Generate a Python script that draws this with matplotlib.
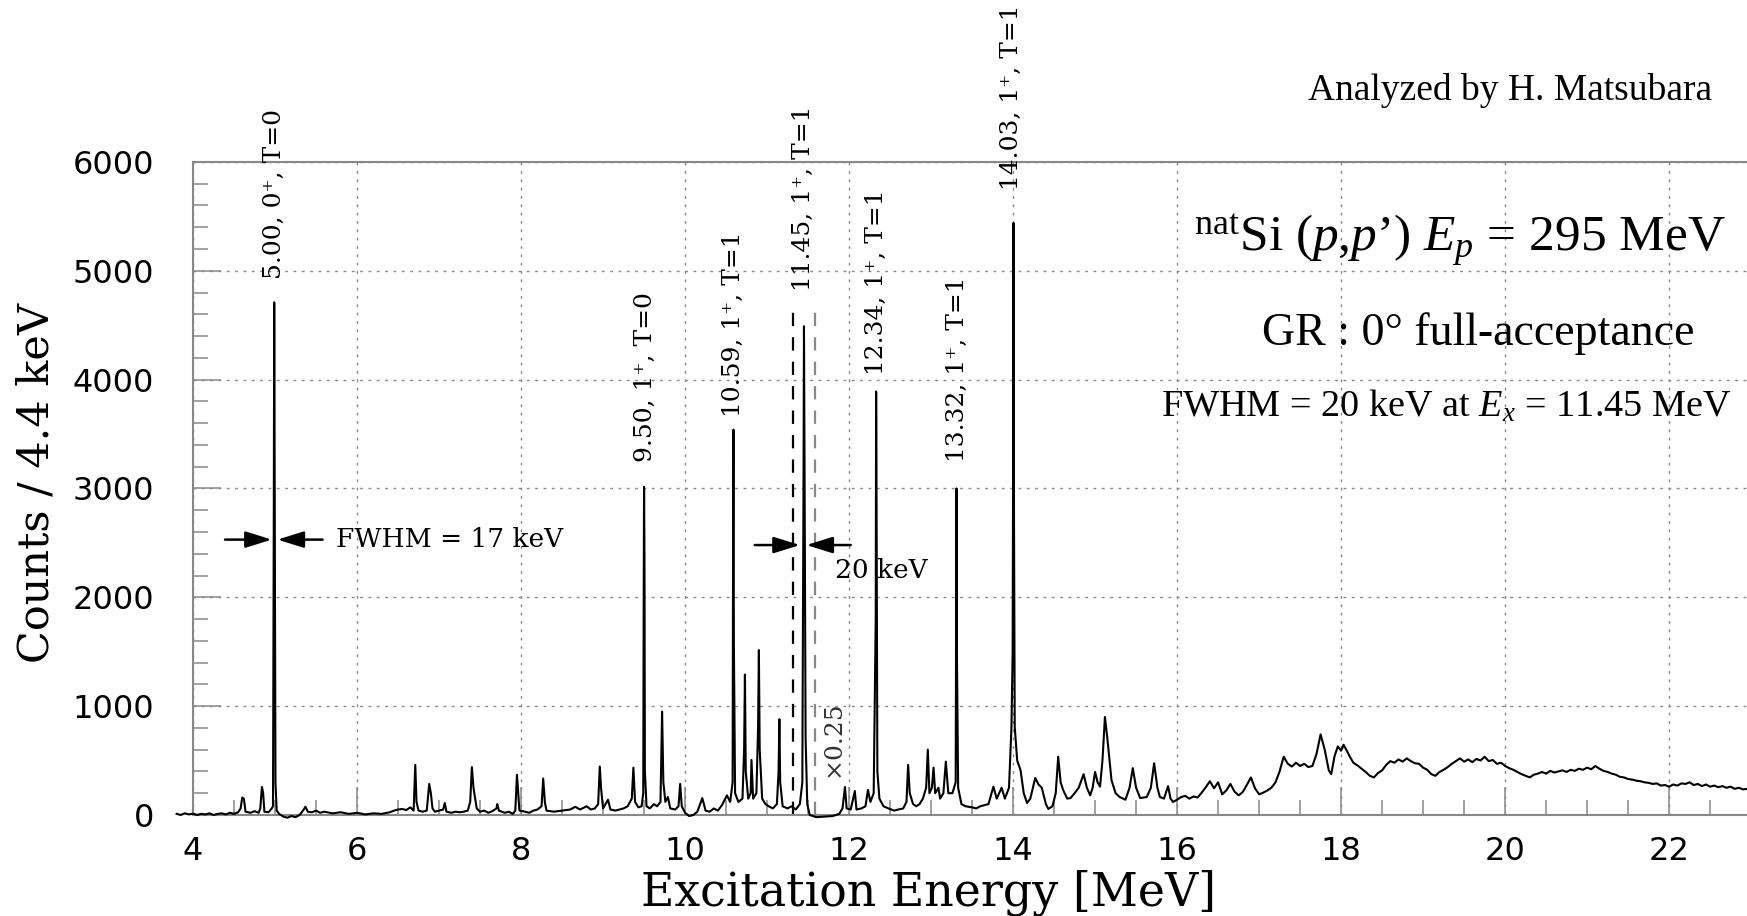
import matplotlib
matplotlib.use('Agg')
import matplotlib.pyplot as plt
from matplotlib.ticker import MultipleLocator

# spectrum, (energy MeV, counts / 4.4 keV)
spec_4_to_9 = [
    (3.80, 10), (3.85, 0), (3.90, 15), (3.95, 5), (4.00, 12), (4.05, 0), (4.10, 10),
    (4.15, 5), (4.20, 15), (4.25, 0), (4.30, 10), (4.35, 15), (4.40, 5), (4.45, 20),
    (4.50, 10), (4.55, 25), (4.58, 60), (4.60, 160), (4.62, 150), (4.64, 30), (4.70, 20),
    (4.75, 35), (4.80, 20), (4.82, 60), (4.84, 257), (4.855, 200), (4.87, 30), (4.92, 25),
    (4.96, 60), (4.975, 80), (4.985, 2850), (4.99, 4710), (4.995, 3250), (5.005, 300),
    (5.02, 40), (5.05, 10), (5.10, -15), (5.15, -25), (5.20, -10), (5.25, -20), (5.30, 0),
    (5.35, 50), (5.37, 76), (5.40, 30), (5.45, 25), (5.50, 40), (5.55, 20), (5.60, 30),
    (5.70, 15), (5.80, 25), (5.90, 10), (6.00, 20), (6.10, 5), (6.20, 15), (6.30, 10),
    (6.40, 25), (6.45, 40), (6.50, 50), (6.55, 55), (6.60, 45), (6.65, 70), (6.69, 40),
    (6.71, 460), (6.725, 120), (6.75, 40), (6.80, 30), (6.85, 40), (6.88, 285), (6.90, 200),
    (6.92, 60), (6.95, 30), (7.00, 40), (7.05, 50), (7.07, 110), (7.09, 30), (7.15, 20),
    (7.20, 30), (7.25, 25), (7.30, 30), (7.35, 40), (7.38, 120), (7.40, 440), (7.42, 250),
    (7.44, 150), (7.46, 60), (7.50, 30), (7.55, 40), (7.60, 20), (7.65, 35), (7.70, 60),
    (7.71, 100), (7.73, 40), (7.80, 20), (7.85, 30), (7.90, 10), (7.93, 40), (7.95, 370),
    (7.965, 200), (7.98, 40), (8.05, 30), (8.10, 20), (8.15, 40), (8.20, 50), (8.25, 80),
    (8.27, 335), (8.29, 120), (8.31, 40), (8.40, 30), (8.50, 40), (8.60, 50), (8.66, 75),
    (8.72, 50), (8.80, 80), (8.85, 50), (8.90, 60), (8.94, 100),
]
spec_9_to_12 = [
    (8.96, 445), (8.975, 250), (9.00, 60), (9.06, 140), (9.09, 50), (9.15, 40), (9.25, 60),
    (9.30, 80), (9.35, 150), (9.37, 435), (9.39, 120), (9.43, 70), (9.47, 80), (9.49, 200),
    (9.495, 1850), (9.50, 3015), (9.505, 2340), (9.51, 400), (9.53, 80), (9.57, 60),
    (9.62, 100), (9.66, 80), (9.70, 120), (9.72, 950), (9.735, 300), (9.76, 120), (9.79, 165),
    (9.82, 60), (9.88, 50), (9.92, 80), (9.94, 285), (9.96, 80), (10.00, 20), (10.05, -10),
    (10.10, 0), (10.15, 30), (10.21, 155), (10.25, 40), (10.30, 30), (10.35, 60), (10.40, 40),
    (10.45, 90), (10.51, 180), (10.55, 120), (10.58, 300), (10.585, 2300), (10.59, 3540),
    (10.595, 1600), (10.61, 200), (10.65, 120), (10.70, 150), (10.72, 600), (10.73, 1290),
    (10.74, 400), (10.77, 150), (10.80, 200), (10.81, 505), (10.83, 150), (10.87, 200),
    (10.89, 800), (10.90, 1515), (10.91, 600), (10.94, 150), (10.98, 100), (11.02, 80),
    (11.07, 60), (11.12, 100), (11.14, 400), (11.15, 880), (11.16, 300), (11.19, 80),
    (11.25, 60), (11.30, 80), (11.35, 50), (11.40, 100), (11.43, 300), (11.445, 3200),
    (11.45, 4490), (11.455, 3500), (11.47, 700), (11.49, 100), (11.52, 0), (11.60, -20),
    (11.70, -15), (11.80, -10), (11.88, 10), (11.92, 60), (11.95, 257), (11.97, 60),
]
spec_12_to_16 = [
    (12.02, 50), (12.07, 220), (12.09, 50), (12.15, 60), (12.20, 80), (12.23, 230),
    (12.26, 120), (12.30, 200), (12.325, 1800), (12.33, 3890), (12.335, 2900), (12.345, 400),
    (12.37, 150), (12.42, 80), (12.48, 60), (12.55, 40), (12.60, 50), (12.66, 60),
    (12.70, 120), (12.72, 460), (12.74, 200), (12.78, 100), (12.82, 80), (12.86, 100),
    (12.90, 150), (12.94, 250), (12.96, 600), (12.98, 200), (13.01, 250), (13.03, 435),
    (13.05, 200), (13.09, 250), (13.11, 150), (13.15, 200), (13.18, 490), (13.21, 200),
    (13.26, 200), (13.30, 300), (13.305, 1600), (13.31, 3000), (13.315, 1500), (13.33, 250),
    (13.37, 100), (13.42, 80), (13.50, 70), (13.55, 60), (13.60, 80), (13.65, 90),
    (13.70, 100), (13.76, 260), (13.80, 150), (13.86, 250), (13.90, 150), (13.95, 250),
    (13.98, 800), (13.995, 1515), (14.00, 3100), (14.005, 5440), (14.01, 3000), (14.02, 810),
    (14.05, 500), (14.09, 415), (14.13, 200), (14.17, 110), (14.21, 150), (14.27, 340),
    (14.31, 280), (14.35, 250), (14.40, 100), (14.43, 55), (14.48, 80), (14.52, 200),
    (14.55, 535), (14.58, 300), (14.61, 230), (14.66, 150), (14.70, 155), (14.75, 200),
    (14.80, 250), (14.86, 375), (14.90, 250), (14.94, 180), (14.97, 250), (15.00, 395),
    (15.03, 300), (15.06, 260), (15.09, 500), (15.12, 900), (15.15, 700), (15.20, 320),
    (15.25, 200), (15.30, 165), (15.37, 140), (15.42, 250), (15.46, 430), (15.50, 250),
    (15.55, 155), (15.63, 165), (15.68, 250), (15.72, 475), (15.76, 250), (15.79, 165),
    (15.84, 150), (15.89, 265), (15.92, 150), (15.95, 120),
]
spec_16_to_23 = [
    (16.00, 140), (16.05, 165), (16.10, 175), (16.15, 150), (16.20, 170), (16.25, 160),
    (16.30, 205), (16.35, 255), (16.40, 310), (16.45, 245), (16.50, 300), (16.55, 190),
    (16.60, 225), (16.65, 285), (16.70, 215), (16.75, 180), (16.80, 210), (16.85, 275),
    (16.90, 345), (16.95, 245), (17.00, 190), (17.05, 205), (17.10, 225), (17.15, 250),
    (17.20, 300), (17.25, 400), (17.30, 535), (17.35, 470), (17.40, 445), (17.45, 480),
    (17.50, 450), (17.55, 470), (17.60, 440), (17.65, 450), (17.70, 560), (17.75, 740),
    (17.80, 600), (17.85, 410), (17.88, 375), (17.92, 540), (17.96, 630), (18.00, 590),
    (18.03, 645), (18.07, 590), (18.11, 530), (18.15, 480), (18.20, 455), (18.25, 425),
    (18.30, 395), (18.35, 360), (18.40, 345), (18.45, 385), (18.50, 410), (18.55, 460),
    (18.60, 495), (18.65, 480), (18.70, 510), (18.75, 490), (18.80, 520), (18.85, 495),
    (18.90, 475), (18.95, 470), (19.00, 435), (19.05, 415), (19.10, 375), (19.15, 360),
    (19.20, 395), (19.25, 415), (19.30, 440), (19.35, 470), (19.40, 495), (19.45, 520),
    (19.50, 490), (19.55, 510), (19.60, 485), (19.65, 515), (19.70, 500), (19.75, 535),
    (19.80, 495), (19.85, 505), (19.90, 470), (19.95, 480), (20.00, 450), (20.05, 430),
    (20.10, 415), (20.15, 395), (20.20, 375), (20.25, 360), (20.30, 345), (20.35, 370),
    (20.40, 380), (20.45, 395), (20.50, 380), (20.55, 405), (20.60, 390), (20.65, 400),
    (20.70, 410), (20.75, 395), (20.80, 415), (20.85, 405), (20.90, 425), (20.95, 415),
    (21.00, 435), (21.05, 420), (21.10, 450), (21.15, 425), (21.20, 405), (21.25, 395),
    (21.30, 380), (21.35, 370), (21.40, 350), (21.45, 345), (21.50, 330), (21.55, 325),
    (21.60, 315), (21.65, 310), (21.70, 300), (21.75, 295), (21.80, 285), (21.85, 290),
    (21.90, 270), (21.95, 275), (22.00, 260), (22.05, 280), (22.10, 270), (22.15, 290),
    (22.20, 285), (22.25, 300), (22.30, 275), (22.35, 285), (22.40, 265), (22.45, 280),
    (22.50, 260), (22.55, 270), (22.60, 255), (22.65, 265), (22.70, 250), (22.75, 260),
    (22.80, 240), (22.85, 250), (22.90, 235), (22.95, 240), (23.00, 225), (23.10, 220),
]

# labelled states
peak_labels = ['5.00, 0⁺, T=0', '9.50, 1⁺, T=0', '10.59, 1⁺, T=1', '11.45, 1⁺, T=1',
               '12.34, 1⁺, T=1', '13.32, 1⁺, T=1', '14.03, 1⁺, T=1']
label_x = [4.99, 9.52, 10.59, 11.44, 12.34, 13.32, 13.98]
label_y = [4920, 3240, 3660, 4810, 4040, 3240, 5740]

xticks = [4, 6, 8, 10, 12, 14, 16, 18, 20, 22]

# x0.25 window
window_x = [11.32, 11.58]
window_top = 4620

plt.rcParams['mathtext.fontset'] = 'custom'
plt.rcParams['mathtext.rm'] = 'Liberation Serif'
plt.rcParams['mathtext.it'] = 'Liberation Serif:italic'

spec = spec_4_to_9 + spec_9_to_12 + spec_12_to_16 + spec_16_to_23
energy = [p[0] for p in spec]
counts = [p[1] for p in spec]

fig = plt.figure(figsize=(17.47, 9.16), dpi=100)
ax = fig.add_axes([0.1105, 0.1103, 0.9388, 0.7129])
ax.set_xlim(4, 24)
ax.set_ylim(0, 6000)

ax.plot(energy, counts, color='black', lw=1.5, clip_on=False, zorder=3)

ax.vlines(window_x[0], 0, window_top, color='black', ls=(0, (6, 5)), lw=1.6, zorder=2)
ax.vlines(window_x[1], 0, window_top, color='#888888', ls=(0, (6, 5)), lw=1.6, zorder=2)

# axes styling
ax.set_xticks(xticks)
ax.xaxis.set_minor_locator(MultipleLocator(0.5))
ax.yaxis.set_major_locator(MultipleLocator(1000))
ax.yaxis.set_minor_locator(MultipleLocator(200))
ax.tick_params(which='major', direction='in', length=20, width=1.1, color='#888888',
               labelsize=23)
ax.tick_params(which='minor', direction='in', length=11, width=1.1, color='#888888')
ax.tick_params(axis='x', which='major', pad=15)
ax.tick_params(axis='y', which='major', pad=28)
ax.grid(which='major', color='#888888', ls=(0, (2, 4)), lw=1.0)
ax.set_axisbelow(True)
for s in ['top', 'left', 'bottom']:
    ax.spines[s].set_color('#888888')
    ax.spines[s].set_linewidth(1.5)
ax.spines['right'].set_visible(False)

fig.text(929 / 1747, 1 - 905 / 916, 'Excitation Energy [MeV]', family='DejaVu Serif',
         fontsize=33, ha='center', va='baseline')
fig.text(37 / 1747, 1 - 483 / 916, 'Counts / 4.4 keV', family='DejaVu Serif',
         fontsize=31, rotation=90, ha='center', va='center')

for lx, ly, lab in zip(label_x, label_y, peak_labels):
    ax.text(lx, ly, lab, rotation=90, ha='center', va='bottom', fontsize=18,
            family='DejaVu Serif')

# FWHM arrows
arr = dict(arrowstyle='-|>,head_length=0.8,head_width=0.25', color='black', lw=1.8,
           shrinkA=0, shrinkB=0, mutation_scale=20)
ax.annotate('', xy=(4.96, 2530), xytext=(4.39, 2530), arrowprops=arr)
ax.annotate('', xy=(5.03, 2530), xytext=(5.58, 2530), arrowprops=arr)
ax.text(5.74, 2530, 'FWHM = 17 keV', fontsize=19, family='DejaVu Serif', va='center')
ax.annotate('', xy=(11.40, 2480), xytext=(10.85, 2480), arrowprops=arr)
ax.annotate('', xy=(11.48, 2480), xytext=(12.02, 2480), arrowprops=arr)
ax.text(11.83, 2250, '20 keV', fontsize=19, family='DejaVu Serif', va='center')
ax.text(11.80, 700, '×0.25', fontsize=18, family='DejaVu Serif', rotation=90,
        ha='center', va='center', color='#333333')

# header texts
fig.text(1712 / 1747, 1 - 100 / 916, 'Analyzed by H. Matsubara', family='Liberation Serif',
         fontsize=27, ha='right', va='baseline')
fig.text(1726 / 1747, 1 - 252 / 916, r"$^{\mathrm{nat}}$Si ($p$,$p$’) $E_p$ = 295 MeV",
         family='Liberation Serif', fontsize=37, ha='right', va='baseline')
fig.text(1694 / 1747, 1 - 345 / 916, 'GR : 0° full-acceptance', family='Liberation Serif',
         fontsize=33, ha='right', va='baseline')
fig.text(1732 / 1747, 1 - 417 / 916, r'FWHM = 20 keV at $E_x$ = 11.45 MeV',
         family='Liberation Serif', fontsize=27.5, ha='right', va='baseline')

fig.savefig('out.png', dpi=100)
